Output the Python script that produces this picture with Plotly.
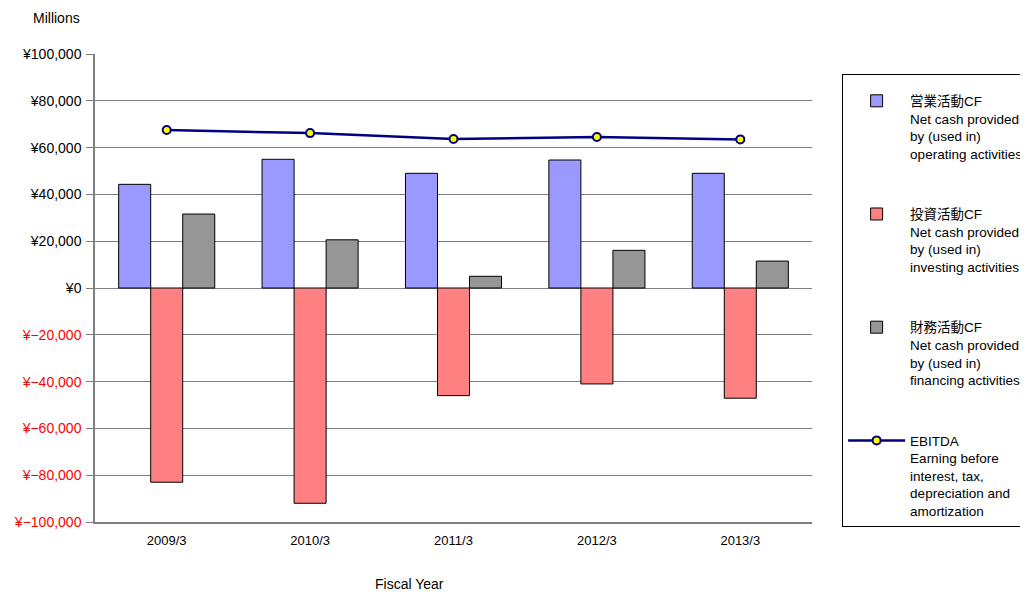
import plotly.graph_objects as go

# --- Datos (millones de yenes) ---
years = ["2009/3", "2010/3", "2011/3", "2012/3", "2013/3"]
operating_cf = [44300, 55000, 49000, 54700, 49000]
investing_cf = [-83000, -92000, -46000, -41000, -47100]
financing_cf = [31600, 20600, 5000, 16100, 11500]
ebitda = [67500, 66200, 63700, 64500, 63500]

y_ticks = [100000, 80000, 60000, 40000, 20000, 0, -20000, -40000, -60000, -80000, -100000]

legend_names = [
    "営業活動CF<br>Net cash provided<br>by (used in)<br>operating activities",
    "投資活動CF<br>Net cash provided<br>by (used in)<br>investing activities",
    "財務活動CF<br>Net cash provided<br>by (used in)<br>financing activities",
    "EBITDA<br>Earning before<br>interest, tax,<br>depreciation and<br>amortization",
]

FONT = "Liberation Sans, Noto Sans CJK JP"


def yen_label(v):
    if v < 0:
        return '<span style="color:#FF0000">¥\u2212{:,}</span>'.format(-v)
    return "¥{:,}".format(v)


fig = go.Figure()

bar_series = [
    (operating_cf, "#9999FF"),
    (investing_cf, "#FF8080"),
    (financing_cf, "#969696"),
]
for i, (vals, color) in enumerate(bar_series):
    fig.add_trace(go.Bar(
        x=years, y=vals, name=legend_names[i], legendgroup=str(i),
        marker=dict(color=color, line=dict(color="#000000", width=1)),
    ))

fig.add_trace(go.Scatter(
    x=years, y=ebitda, name=legend_names[3], legendgroup="3",
    mode="lines+markers",
    line=dict(color="#000080", width=2.5),
    marker=dict(size=8, color="#FFFF00", line=dict(color="#000080", width=2)),
))

# la página tiene 8px de margen en el body: la figura se reduce para caber
fig.update_layout(
    width=1020, height=586,
    margin=dict(l=87, r=216, t=46, b=72, autoexpand=False),
    paper_bgcolor="white", plot_bgcolor="white",
    font=dict(family=FONT, size=13, color="#000000"),
    barmode="group", bargap=0.33, bargroupgap=0,
    showlegend=True,
    legend=dict(
        x=1.042, y=0.957, xanchor="left", yanchor="top",
        bordercolor="#000000", borderwidth=1, bgcolor="white",
        font=dict(family=FONT, size=13.5),
        title=dict(text=" ", font=dict(size=8)),
        traceorder="grouped", tracegroupgap=40, valign="top",
        itemwidth=57,
    ),
    xaxis=dict(
        showgrid=False, showline=True, linecolor="#808080", linewidth=1.5,
        ticks="", tickfont=dict(size=13), ticklabelstandoff=6,
    ),
    yaxis=dict(
        range=[-100000, 100000],
        tickvals=y_ticks, ticktext=[yen_label(v) for v in y_ticks],
        showgrid=True, gridcolor="#808080", gridwidth=1.3,
        zeroline=True, zerolinecolor="#808080", zerolinewidth=1.3,
        showline=True, linecolor="#808080", linewidth=1.5,
        ticks="outside", ticklen=7, tickcolor="#808080",
        ticklabelstandoff=2, tickfont=dict(size=14),
    ),
    annotations=[
        dict(text="Millions", xref="paper", yref="paper", x=-0.054, y=1.077,
             xanchor="center", yanchor="middle", showarrow=False, font=dict(size=14)),
        dict(text="Fiscal Year", xref="paper", yref="paper", x=0.439, y=-0.132,
             xanchor="center", yanchor="middle", showarrow=False, font=dict(size=14)),
    ],
)

fig.write_html("out.html")
